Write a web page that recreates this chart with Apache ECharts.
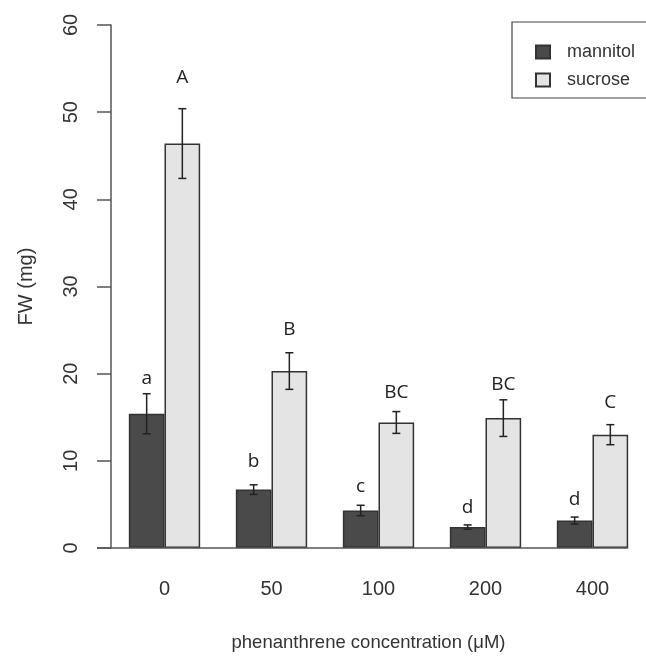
<!DOCTYPE html>
<html><head><meta charset="utf-8">
<script src="https://cdn.jsdelivr.net/npm/echarts@6/dist/echarts.min.js"></script>
<style>html,body{margin:0;padding:0;background:#fff}#c{width:646px;height:657px}</style>
</head><body><div id="c"></div>
<script>
const categories = ['0', '50', '100', '200', '400'];
const mannitol = [15.4, 6.7, 4.3, 2.4, 3.15];
const mannitolSE = [2.3, 0.55, 0.6, 0.25, 0.4];
const sucrose = [46.4, 20.3, 14.4, 14.9, 13.0];
const sucroseSE = [4.0, 2.1, 1.25, 2.1, 1.15];
const mannitolLetters = ['a', 'b', 'c', 'd', 'd'];
const sucroseLetters = ['A', 'B', 'BC', 'BC', 'C'];
const mannitolLetterY = [19.4, 9.9, 7.1, 4.6, 5.55];
const sucroseLetterY = [54.0, 25.1, 17.8, 18.7, 16.7];

const chart = echarts.init(document.getElementById('c'), null, {renderer: 'canvas'});
const axisColor = '#555';
const txtColor = '#333';
const labelFont = 'Liberation Sans, Arial, sans-serif';

function errRender(sign) {
  return function (params, api) {
    const i = api.value(0), m = api.value(1), se = api.value(2);
    const band = api.size([1, 0])[0];
    const cx = api.coord([i, m])[0] + sign * band / 6;
    const top = api.coord([i, m + se])[1];
    const bot = api.coord([i, m - se])[1];
    const cap = 4;
    const st = {stroke: '#222', lineWidth: 1.5};
    return {type: 'group', children: [
      {type: 'line', shape: {x1: cx, y1: top, x2: cx, y2: bot}, style: st},
      {type: 'line', shape: {x1: cx - cap, y1: top, x2: cx + cap, y2: top}, style: st},
      {type: 'line', shape: {x1: cx - cap, y1: bot, x2: cx + cap, y2: bot}, style: st}
    ]};
  };
}
function letterRender(sign, letters) {
  return function (params, api) {
    const i = api.value(0), y = api.value(1);
    const band = api.size([1, 0])[0];
    const p = api.coord([i, y]);
    return {type: 'text', x: p[0] + sign * band / 6, y: p[1],
      style: {text: letters[params.dataIndex], fill: '#222',
        font: '19px "Open Sans", sans-serif', align: 'center', verticalAlign: 'middle'}};
  };
}

const option = {
  animation: false,
  backgroundColor: '#fff',
  grid: {left: 111, right: 0, top: 25, bottom: 106, containLabel: false},
  legend: {
    orient: 'vertical', left: 530, top: 38, itemWidth: 14, itemHeight: 13, itemGap: 10,
    textStyle: {fontFamily: labelFont, fontSize: 18, color: txtColor, padding: [0, 0, 0, 12]},
    data: ['mannitol', 'sucrose'], icon: 'rect'
  },
  xAxis: {
    type: 'category', data: categories,
    axisLine: {show: false}, axisTick: {show: false},
    axisLabel: {fontFamily: labelFont, fontSize: 20, color: txtColor, margin: 31},
    name: 'phenanthrene concentration (μM)', nameLocation: 'middle', nameGap: 85,
    nameTextStyle: {fontFamily: labelFont, fontSize: 18.5, color: txtColor, padding: [0, 20, 0, 0]}
  },
  yAxis: {
    type: 'value', min: 0, max: 60, interval: 10,
    splitLine: {show: false},
    axisLine: {show: true, lineStyle: {color: axisColor, width: 1.5}},
    axisTick: {show: true, length: 14, lineStyle: {color: axisColor, width: 1.5}},
    axisLabel: {fontFamily: labelFont, fontSize: 20, color: txtColor, rotate: 90, margin: 30},
    name: 'FW (mg)', nameLocation: 'middle', nameRotate: 90, nameGap: 75,
    nameTextStyle: {fontFamily: labelFont, fontSize: 20, color: txtColor}
  },
  series: [
    {name: 'mannitol', type: 'bar', data: mannitol, barGap: '0%', barCategoryGap: '33.33%',
      itemStyle: {color: '#4a4a4a', borderColor: '#333', borderWidth: 1.5}},
    {name: 'sucrose', type: 'bar', data: sucrose, barGap: '0%', barCategoryGap: '33.33%',
      itemStyle: {color: '#e4e4e4', borderColor: '#333', borderWidth: 1.5}},
    {type: 'custom', renderItem: errRender(-1), z: 5,
      data: mannitol.map((v, i) => [i, v, mannitolSE[i]])},
    {type: 'custom', renderItem: errRender(1), z: 5,
      data: sucrose.map((v, i) => [i, v, sucroseSE[i]])},
    {type: 'custom', renderItem: letterRender(-1, mannitolLetters), z: 6,
      data: mannitolLetterY.map((v, i) => [i, v])},
    {type: 'custom', renderItem: letterRender(1, sucroseLetters), z: 6,
      data: sucroseLetterY.map((v, i) => [i, v])}
  ]
};
chart.setOption(option);

// baseline and legend box
const y0 = chart.convertToPixel({yAxisIndex: 0}, 0);
const xFirst = chart.convertToPixel({xAxisIndex: 0}, 0);
const xSecond = chart.convertToPixel({xAxisIndex: 0}, 1);
const xLast = chart.convertToPixel({xAxisIndex: 0}, categories.length - 1);
const band = xSecond - xFirst;
const gridLeft = xFirst - band / 2;
chart.setOption({
  graphic: [
    {type: 'line', shape: {x1: gridLeft - 14, y1: y0, x2: xLast + band / 3, y2: y0},
      style: {stroke: axisColor, lineWidth: 1.5}, z: 10},
    {type: 'rect', shape: {x: 512, y: 22, width: 150, height: 76},
      style: {stroke: '#444', fill: 'none', lineWidth: 1.2}, z: 10}
  ]
});
</script>
</body></html>
